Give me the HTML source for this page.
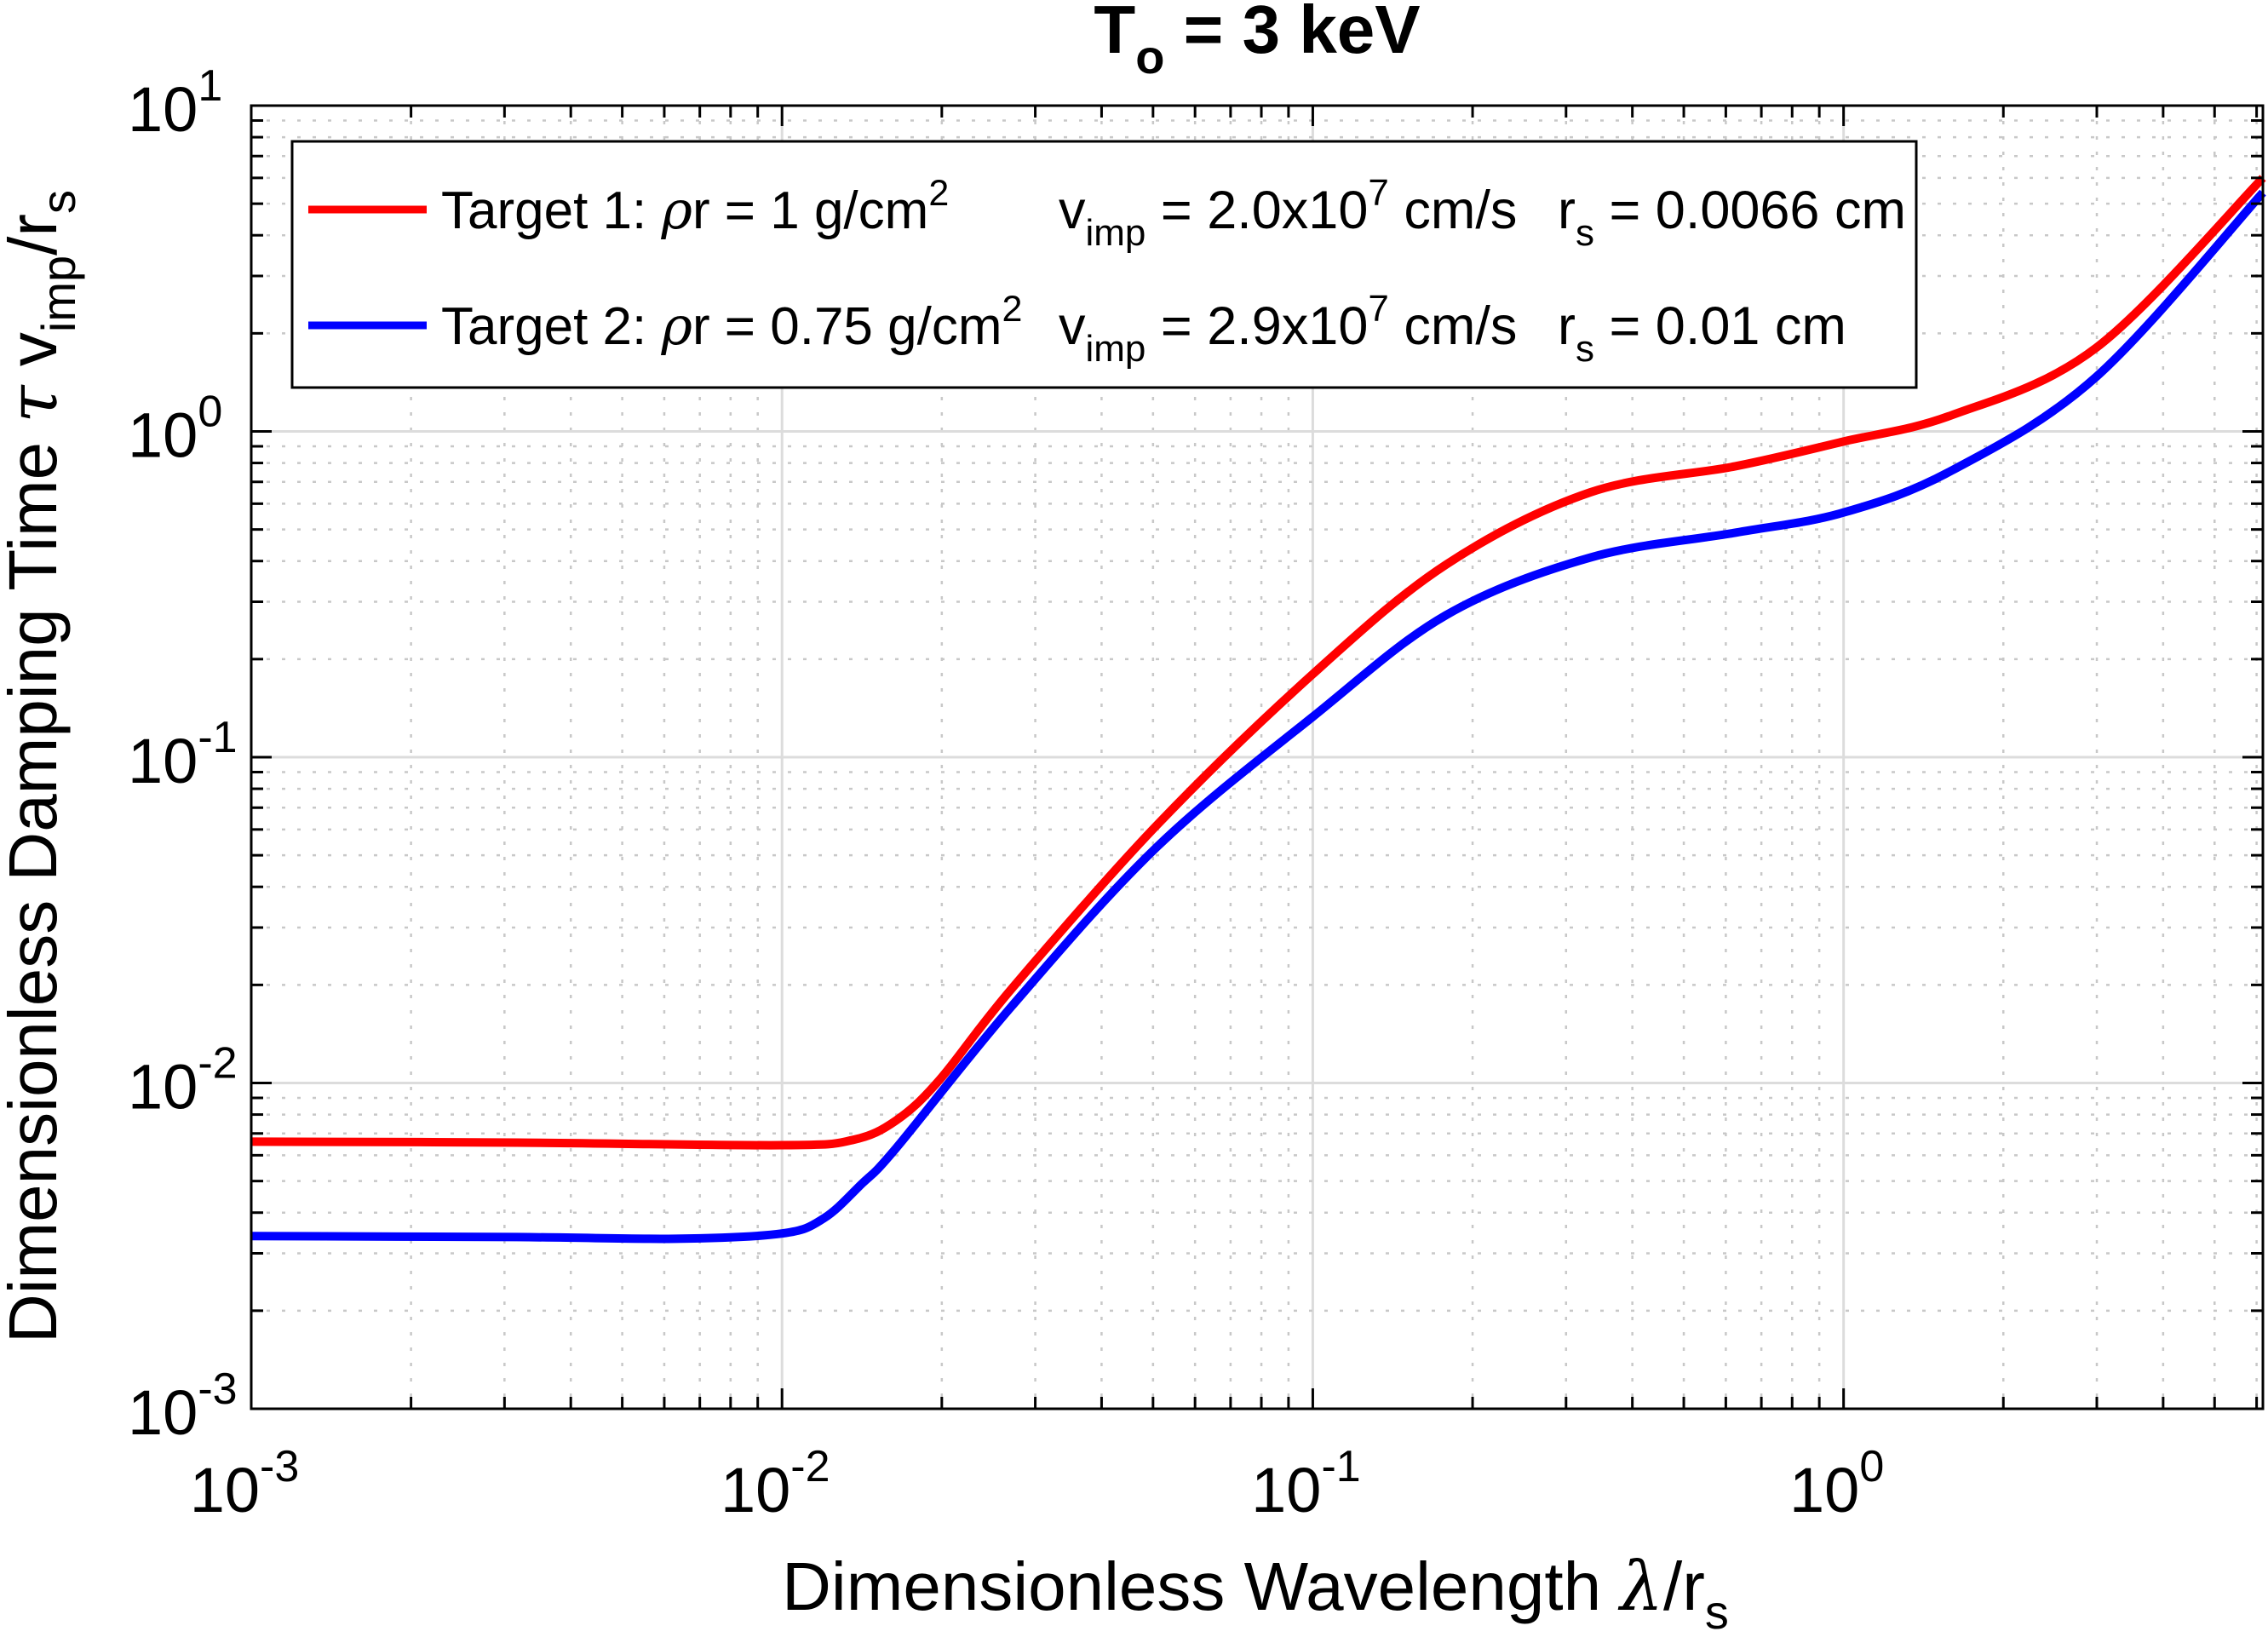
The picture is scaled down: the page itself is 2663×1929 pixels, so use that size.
<!DOCTYPE html>
<html><head><meta charset="utf-8"><style>
html,body{margin:0;padding:0;background:#fff}
svg{display:block;font-family:"Liberation Sans",sans-serif}
</style></head><body>
<svg id="chart" width="2663" height="1929" viewBox="0 0 2663 1929">
<g id="grid"></g>
<g id="curves"></g>
<g id="axes"></g>
<text x="1476" y="62" text-anchor="middle" font-size="80" font-weight="bold">T<tspan font-size="56" dy="24">o</tspan><tspan dy="-24"> = 3 keV</tspan></text>
<text x="1474" y="1890" text-anchor="middle" font-size="80">Dimensionless Wavelength <tspan font-family="DejaVu Serif" font-style="italic">λ</tspan>/r<tspan font-size="56" dy="22">s</tspan></text>
<text transform="translate(66,900) rotate(-90)" text-anchor="middle" font-size="80">Dimensionless Damping Time <tspan font-family="DejaVu Serif" font-style="italic">τ</tspan> v<tspan font-size="56" dy="22">imp</tspan><tspan dy="-22">/r</tspan><tspan font-size="56" dy="22">s</tspan></text>
<g>
<rect x="343" y="166" width="1907" height="289" fill="#fff" stroke="#000" stroke-width="3"/>
<g>
<line x1="362" y1="246" x2="501" y2="246" stroke="#ff0000" stroke-width="9"/>
<text x="518" y="268" font-size="62">Target 1: <tspan font-family="DejaVu Serif" font-style="italic">ρ</tspan>r = 1 g/cm<tspan font-size="43" dy="-27">2</tspan></text>
<text x="1243" y="268" font-size="63">v<tspan font-size="44" dy="20">imp</tspan><tspan dy="-20"> = 2.0x10</tspan><tspan font-size="44" dy="-27">7</tspan><tspan dy="27"> cm/s</tspan></text>
<text x="1829" y="268" font-size="63">r<tspan font-size="44" dy="20">s</tspan><tspan dy="-20"> = 0.0066 cm</tspan></text>
</g>
<g>
<line x1="362" y1="382" x2="501" y2="382" stroke="#0000ff" stroke-width="9"/>
<text x="518" y="404" font-size="62">Target 2: <tspan font-family="DejaVu Serif" font-style="italic">ρ</tspan>r = 0.75 g/cm<tspan font-size="43" dy="-27">2</tspan></text>
<text x="1243" y="404" font-size="63">v<tspan font-size="44" dy="20">imp</tspan><tspan dy="-20"> = 2.9x10</tspan><tspan font-size="44" dy="-27">7</tspan><tspan dy="27"> cm/s</tspan></text>
<text x="1829" y="404" font-size="63">r<tspan font-size="44" dy="20">s</tspan><tspan dy="-20"> = 0.01 cm</tspan></text>
</g>
</g>
</svg>
<script>
const xTickExps = [-3, -2, -1, 0];
const yTickExps = [-3, -2, -1, 0, 1];
const logXMin = -3, logXMax = 0.79, logYMin = -3, logYMax = 1;
const target1LogX = [-3, -2.5, -2, -1.867, -1.785, -1.703, -1.567, -1.294, -1, -0.749, -0.477, -0.204, 0, 0.204, 0.477, 0.79];
const target1LogY = [-2.18, -2.183, -2.191, -2.175, -2.115, -1.99, -1.71, -1.209, -0.745, -0.409, -0.187, -0.107, -0.031, 0.05, 0.258, 0.778];
const target2LogX = [-3, -2.5, -2.2, -2, -1.921, -1.85, -1.785, -1.567, -1.294, -1, -0.749, -0.477, -0.204, 0, 0.204, 0.477, 0.79];
const target2LogY = [-2.47, -2.473, -2.478, -2.462, -2.415, -2.31, -2.2, -1.764, -1.276, -0.876, -0.564, -0.387, -0.311, -0.249, -0.12, 0.169, 0.733];

const L = 295, R = 2657, T = 124, B = 1654;
const NS = 'http://www.w3.org/2000/svg';
function sx(lx){ return L + (lx - logXMin) / (logXMax - logXMin) * (R - L); }
function sy(ly){ return B - (ly - logYMin) / (logYMax - logYMin) * (B - T); }
function mk(tag, attrs, parent){ const e = document.createElementNS(NS, tag); for (const k in attrs) e.setAttribute(k, attrs[k]); parent.appendChild(e); return e; }

const grid = document.getElementById('grid');
const axes = document.getElementById('axes');
for (let e = -3; e <= 0; e++) {
  for (let m = 1; m <= 9; m++) {
    const lx = e + Math.log10(m);
    if (lx > logXMax) continue;
    const x = sx(lx);
    const gl = mk('line', {x1:x, x2:x, y1:T, y2:B, stroke: m===1 ? '#dcdcdc' : '#c8c8c8', 'stroke-width': m===1 ? 3 : 2.5, 'stroke-dasharray': m===1 ? '' : '4 14'}, grid);
    
    
    const len = m===1 ? 24 : 14;
    mk('line', {x1:x, x2:x, y1:B, y2:B-len, stroke:'#000', 'stroke-width':3}, axes);
    mk('line', {x1:x, x2:x, y1:T, y2:T+len, stroke:'#000', 'stroke-width':3}, axes);
  }
}
for (let e = -3; e <= 0; e++) {
  for (let m = 1; m <= 9; m++) {
    const y = sy(e + Math.log10(m));
    const gl = mk('line', {x1:L, x2:R, y1:y, y2:y, stroke: m===1 ? '#dcdcdc' : '#c8c8c8', 'stroke-width': m===1 ? 3 : 2.5, 'stroke-dasharray': m===1 ? '' : '4 14'}, grid);
    
    
    const len = m===1 ? 24 : 14;
    mk('line', {x1:L, x2:L+len, y1:y, y2:y, stroke:'#000', 'stroke-width':3}, axes);
    mk('line', {x1:R, x2:R-len, y1:y, y2:y, stroke:'#000', 'stroke-width':3}, axes);
  }
}
const box = mk('rect', {x:L, y:T, width:R-L, height:B-T, fill:'none', stroke:'#000', 'stroke-width':3}, axes);



xTickExps.forEach(function(e){
  const t = mk('text', {x: sx(e) - 8, y: 1775, 'text-anchor':'middle', 'font-size':74}, axes);
  
  
  t.innerHTML = '10<tspan font-size="52" dy="-36">' + e + '</tspan>';
});
yTickExps.forEach(function(e){
  const t = mk('text', {x: 150, y: sy(e) + 30, 'font-size':74}, axes);
  
  
  t.innerHTML = '10<tspan font-size="52" dy="-36">' + e + '</tspan>';
});

function pathFor(lxs, lys){
  const p = lxs.map(function(v, i){ return [sx(v), sy(lys[i])]; });
  let d = 'M' + p[0][0] + ',' + p[0][1];
  for (let i = 0; i < p.length - 1; i++) {
    const p0 = p[Math.max(i-1,0)], p1 = p[i], p2 = p[i+1], p3 = p[Math.min(i+2,p.length-1)];
    const c1 = [p1[0] + (p2[0]-p0[0])/6, p1[1] + (p2[1]-p0[1])/6];
    const c2 = [p2[0] - (p3[0]-p1[0])/6, p2[1] - (p3[1]-p1[1])/6];
    d += ' C' + c1[0] + ',' + c1[1] + ' ' + c2[0] + ',' + c2[1] + ' ' + p2[0] + ',' + p2[1];
  }
  return d;
}
const curves = document.getElementById('curves');
const c1 = mk('path', {d: pathFor(target1LogX, target1LogY), fill:'none', stroke:'#ff0000', 'stroke-width':10}, curves);


const c2 = mk('path', {d: pathFor(target2LogX, target2LogY), fill:'none', stroke:'#0000ff', 'stroke-width':10}, curves);


</script>
</body></html>
